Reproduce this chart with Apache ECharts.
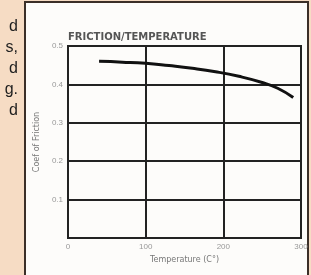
<!DOCTYPE html>
<html>
<head>
<meta charset="utf-8">
<script src="https://cdn.jsdelivr.net/npm/echarts@6/dist/echarts.min.js"></script>
<style>
html, body { margin: 0; padding: 0; background: #f6dcc4; }
#chart { width: 311px; height: 275px; }
</style>
</head>
<body>
<div id="chart"></div>
<script>
// temperature (C) and coefficient of friction
let temps = [40, 70, 100, 130, 160, 190, 220, 250, 270, 290];
let friction = [0.46, 0.458, 0.455, 0.449, 0.442, 0.433, 0.421, 0.405, 0.39, 0.366];
let sideText = ['d', 's,', 'd', 'g.', 'd']; // cut-off paragraph on the left

let myChart = echarts.init(document.getElementById('chart'));

let sideItems = sideText.map(function (t, i) {
    return {
        type: 'text',
        right: 293,
        top: 19 + i * 21,
        style: { text: t, fill: '#1e1e1e', font: '16px "Liberation Sans", Arial, sans-serif', textAlign: 'right' }
    };
});

let option = {
    backgroundColor: '#f6dcc4',
    animation: false,
    graphic: [
        {
            type: 'rect',
            shape: { x: 25, y: 2, width: 283, height: 280 },
            style: { fill: '#fdfcfa', stroke: '#3b2f28', lineWidth: 2 },
            z: -10
        }
    ].concat(sideItems),
    title: {
        text: 'FRICTION/TEMPERATURE',
        left: 63,
        top: 27,
        textStyle: { fontSize: 10, fontWeight: 'bold', color: '#555', fontFamily: 'DejaVu Sans' }
    },
    grid: {
        left: 68,
        right: 10,
        top: 46,
        bottom: 37,
        show: true,
        borderColor: '#222',
        borderWidth: 2
    },
    xAxis: {
        type: 'value',
        min: 0,
        max: 300,
        interval: 100,
        name: 'Temperature (C°)',
        nameLocation: 'middle',
        nameGap: 16,
        nameTextStyle: { fontSize: 8, color: '#777', fontFamily: 'DejaVu Sans' },
        axisLine: { show: true, lineStyle: { color: '#222', width: 2 } },
        axisTick: { show: false },
        axisLabel: { fontSize: 8, color: '#999', margin: 5, fontFamily: 'Liberation Sans' },
        splitLine: { show: true, lineStyle: { color: '#222', width: 2 } }
    },
    yAxis: {
        type: 'value',
        min: 0,
        max: 0.5,
        interval: 0.1,
        name: 'Coef of Friction',
        nameLocation: 'middle',
        nameGap: 27,
        nameTextStyle: { fontSize: 8, color: '#777', fontFamily: 'DejaVu Sans' },
        axisLine: { show: true, lineStyle: { color: '#222', width: 2 } },
        axisTick: { show: false },
        axisLabel: {
            fontSize: 8,
            color: '#999',
            margin: 5,
            fontFamily: 'Liberation Sans',
            formatter: function (v) { return v === 0 ? '' : v.toFixed(1); }
        },
        splitLine: { show: true, lineStyle: { color: '#222', width: 2 } }
    },
    series: [
        {
            type: 'line',
            smooth: true,
            showSymbol: false,
            lineStyle: { color: '#111', width: 3 },
            data: temps.map(function (t, i) { return [t, friction[i]]; })
        }
    ]
};

myChart.setOption(option);
</script>
</body>
</html>
